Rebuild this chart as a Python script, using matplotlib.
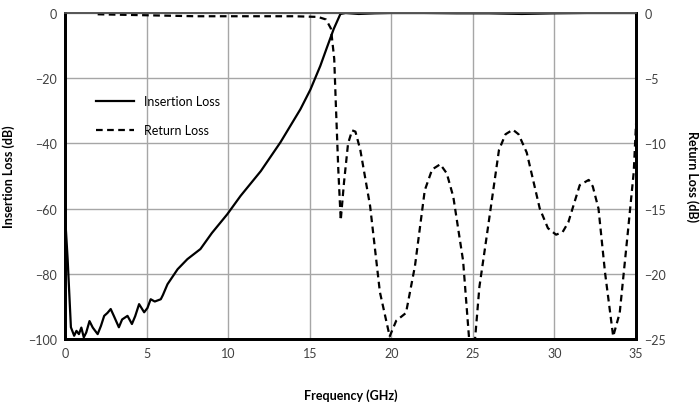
import matplotlib
matplotlib.use("Agg")
import matplotlib.pyplot as plt

plt.rcParams['font.family'] = ['Lato', 'DejaVu Sans']

# insertion loss (left axis)
il_freq = [0, 0.16, 0.36, 0.56, 0.7, 0.85, 1.0, 1.15, 1.3, 1.5, 1.7, 2.0, 2.2, 2.4,
           2.6, 2.8, 3.0, 3.3, 3.5, 3.83, 4.1, 4.3, 4.54, 4.85, 5.05, 5.25, 5.5,
           5.87, 6.0, 6.28, 6.9, 7.5, 8.3, 9.0, 9.95, 10.76, 12.0, 13.2, 14.43,
           15.04, 15.65, 16.06, 16.47, 16.88, 17.2, 18, 19, 20, 22, 24, 26, 28,
           30, 32, 35]
il_db = [-62, -75.5, -96.4, -99, -97.5, -98.5, -96.5, -99.5, -98, -94.5, -96.5,
         -98.5, -96, -92.9, -92, -90.8, -93, -96.4, -94, -92.9, -95.4, -93,
         -89.3, -91.8, -90.5, -87.8, -88.5, -87.8, -86.5, -83.2, -78.6, -75.5,
         -72.4, -67.5, -61.7, -56.1, -48.5, -39.7, -29.5, -23.5, -16.2, -10.5,
         -4.9, -0.3, 0, -0.3, -0.1, 0, 0, -0.1, -0.1, -0.3, -0.1, 0, 0]

# return loss (right axis)
rl_freq = [2.0, 4, 6, 8, 10, 12, 14, 15.5, 16.0, 16.3, 16.5, 16.6, 16.75, 16.9,
           17.1, 17.35, 17.6, 17.8, 18.1, 18.7, 19.3, 19.9, 20.3, 20.9, 21.45,
           22.05, 22.5, 23.0, 23.4, 23.8, 24.4, 24.8, 25.1, 25.4, 25.85, 26.6,
           27.0, 27.45, 27.8, 28.3, 29.1, 29.6, 30.1, 30.5, 30.85, 31.55, 32.1,
           32.35, 32.7, 33.1, 33.6, 34.0, 34.5, 34.86, 35.0]
rl_db = [-0.1, -0.15, -0.2, -0.25, -0.25, -0.25, -0.25, -0.3, -0.5, -1.2, -3.5,
         -7, -12, -15.9, -13, -10, -9.0, -9.1, -10.5, -14.8, -21.4, -24.8,
         -23.6, -23.0, -19.4, -13.6, -12.0, -11.6, -12.3, -14.1, -19.0, -25.5,
         -25.5, -21, -17.1, -10.5, -9.3, -8.95, -9.3, -10.7, -15.0, -16.5,
         -17.0, -16.8, -16.05, -13.2, -12.8, -13.3, -15.0, -19.9, -24.8, -23.0,
         -16.8, -12.2, -8.5]

fig = plt.figure(figsize=(7, 4.1), dpi=100)
ax = fig.add_axes([0.0929, 0.1707, 0.8157, 0.7952])
ax2 = ax.twinx()

l1, = ax.plot(il_freq, il_db, color='black', lw=1.6, label='Insertion Loss')
l2, = ax2.plot(rl_freq, rl_db, color='black', lw=1.6, linestyle=(0, (3, 2)),
               label='Return Loss')

ax.set_xlim(0, 35)
ax.set_ylim(-100, 0)
ax2.set_ylim(-25, 0)
ax.set_xticks(range(0, 36, 5))
ax.set_yticks(range(-100, 1, 20))
ax2.set_yticks(range(-25, 1, 5))

ax.grid(True, color='#a6a6a6', lw=1.0)
ax.set_axisbelow(True)

for a in (ax, ax2):
    a.tick_params(length=0, labelsize=9, colors='#404040', pad=6)
    for s in a.spines.values():
        s.set_color('black')
        s.set_linewidth(2)
    a.spines['top'].set_color('#555555')
    a.spines['top'].set_linewidth(1.2)

ax.set_xlabel('Frequency (GHz)', fontsize=9, fontweight='bold')
ax.xaxis.set_label_coords(0.5, -0.15)
ax.set_ylabel('Insertion Loss (dB)', fontsize=9, fontweight='bold')
ax.yaxis.set_label_coords(-0.088, 0.5)
ax2.set_ylabel('Return Loss (dB)', fontsize=9, fontweight='bold', rotation=270,
               va='center')
ax2.yaxis.set_label_coords(1.098, 0.5)

ax.legend([l1, l2], ['Insertion Loss', 'Return Loss'], loc='upper left',
          bbox_to_anchor=(0.035, 0.782), frameon=False, fontsize=9,
          handlelength=3.0, labelspacing=1.35)

plt.savefig('out.png', dpi=100)
